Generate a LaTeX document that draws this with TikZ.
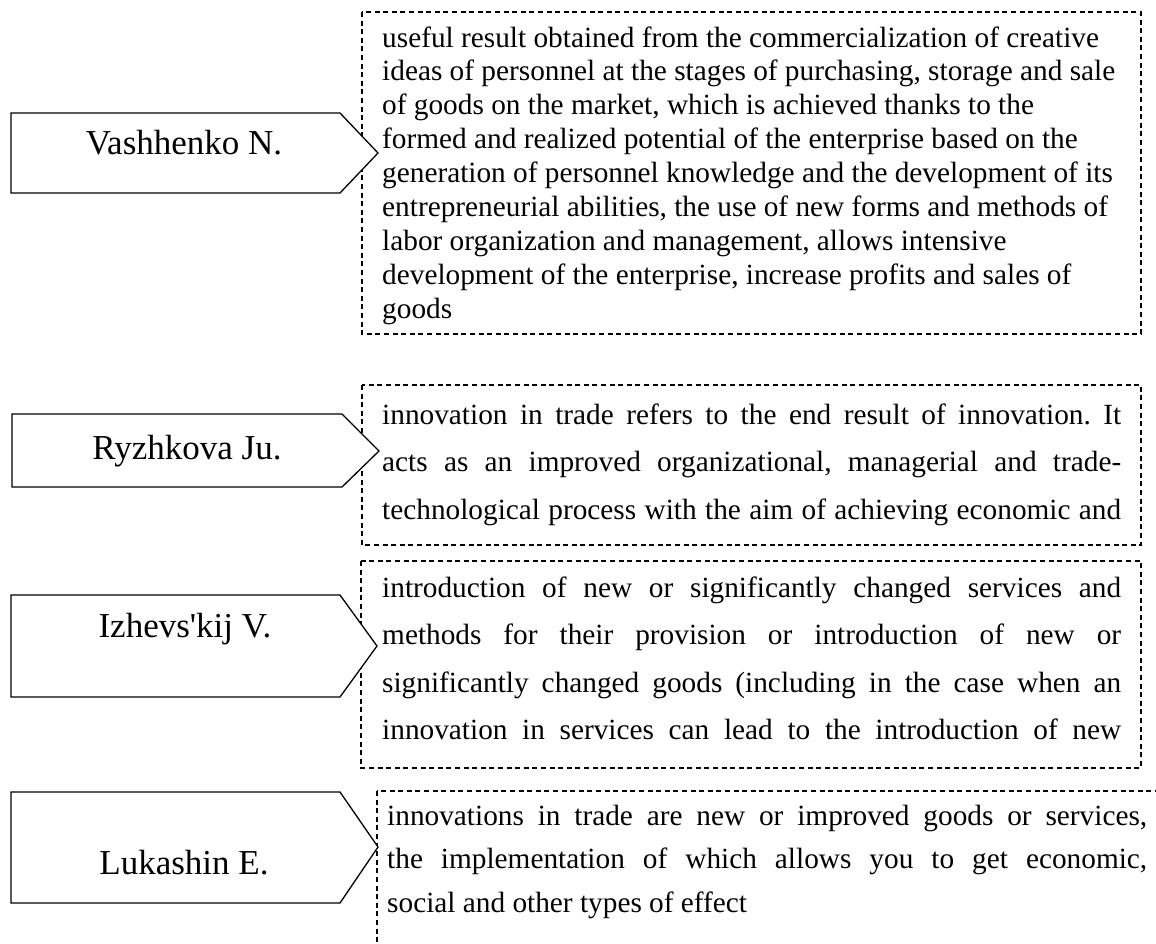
\documentclass[tikz,border=0pt]{standalone}
\usepackage{fontspec}
\setmainfont{Liberation Serif}
\frenchspacing
% one line of a definition: justified to the full width, or left ragged
\newcommand\justline[1]{\hbox to\hsize{#1}}
\newcommand\raggline[1]{\hbox to\hsize{#1\hfil}}
% a block of lines with a given width and baseline distance
\newcommand\deflines[3]{\vtop{\hsize=#1\baselineskip=#2\lineskiplimit=-100pt #3}}
\begin{document}
\begin{tikzpicture}[x=1pt,y=-1pt,
  defbox/.style={draw=black, dash pattern=on 5pt off 3.6pt, line width=1.2pt},
  authorshape/.style={draw=black, fill=white, line width=1.3pt, line join=miter},
  authorname/.style={font=\fontsize{35}{41}\selectfont, anchor=base, inner sep=0pt},
  deftext/.style={font=\fontsize{29.3}{34}\selectfont, anchor=base west, inner sep=0pt},
]
\clip (0,0) rectangle (1156,943);

% dashed definition frames
\draw[defbox] (362,12) rectangle (1141,334);
\draw[defbox] (362,385) rectangle (1141,545);
\draw[defbox] (361,561) rectangle (1141,768);
\draw[defbox] (377,791) rectangle (1175,965);

% definition texts
\node[deftext] (d1) at (382,47) {\deflines{760pt}{33.9pt}{%
  \raggline{useful result obtained from the commercialization of creative}
  \raggline{ideas of personnel at the stages of purchasing, storage and sale}
  \raggline{of goods on the market, which is achieved thanks to the}
  \raggline{formed and realized potential of the enterprise based on the}
  \raggline{generation of personnel knowledge and the development of its}
  \raggline{entrepreneurial abilities, the use of new forms and methods of}
  \raggline{labor organization and management, allows intensive}
  \raggline{development of the enterprise, increase profits and sales of}
  \raggline{goods}}};
\node[deftext] (d2) at (382,424) {\deflines{739pt}{47.5pt}{%
  \justline{innovation in trade refers to the end result of innovation. It}
  \justline{acts as an improved organizational, managerial and trade-}
  \justline{technological process with the aim of achieving economic and}}};
\node[deftext] (d3) at (382,597) {\deflines{739pt}{47.5pt}{%
  \justline{introduction of new or significantly changed services and}
  \justline{methods for their provision or introduction of new or}
  \justline{significantly changed goods (including in the case when an}
  \justline{innovation in services can lead to the introduction of new}}};
\node[deftext] (d4) at (387,825) {\deflines{760pt}{43.5pt}{%
  \justline{innovations in trade are new or improved goods or services,}
  \justline{the implementation of which allows you to get economic,}
  \raggline{social and other types of effect}}};

% author pointers
\draw[authorshape] (11,113) coordinate (a1nw) -- (340,113) -- (378,153) coordinate (a1tip) -- (340,193) -- (11,193) -- cycle;
\draw[authorshape] (12,414) coordinate (a2nw) -- (342,414) -- (379,451) coordinate (a2tip) -- (342,487) -- (12,487) -- cycle;
\draw[authorshape] (11,595) coordinate (a3nw) -- (340,595) -- (377,646) coordinate (a3tip) -- (340,697) -- (11,697) -- cycle;
\draw[authorshape] (11,792) coordinate (a4nw) -- (340,792) -- (378,847) coordinate (a4tip) -- (340,903) -- (11,903) -- cycle;

\node[authorname] (n1) at (184,154) {Vashhenko N.};
\node[authorname] (n2) at (187,459) {Ryzhkova Ju.};
\node[authorname] (n3) at (185,637) {Izhevs\textquotesingle kij V.};
\node[authorname] (n4) at (184,874) {Lukashin E.};
\end{tikzpicture}
\end{document}
